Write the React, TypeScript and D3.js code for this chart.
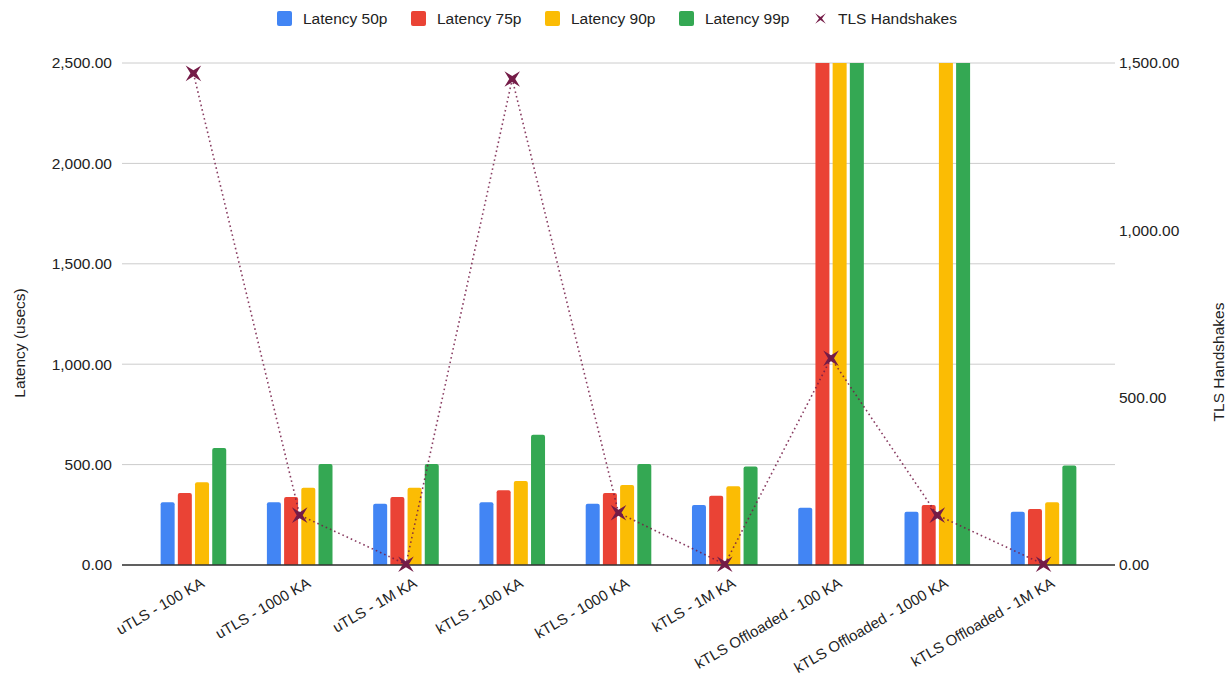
import React from "react";
import * as d3 from "d3";

// Test configurations (x categories)
const categories = [
  "uTLS - 100 KA",
  "uTLS - 1000 KA",
  "uTLS - 1M KA",
  "kTLS - 100 KA",
  "kTLS - 1000 KA",
  "kTLS - 1M KA",
  "kTLS Offloaded - 100 KA",
  "kTLS Offloaded - 1000 KA",
  "kTLS Offloaded - 1M KA",
];

// Latency percentiles in microseconds (values above 2,500 run off the axis)
const latency50p = [312, 312, 305, 312, 305, 299, 285, 265, 265];
const latency75p = [358, 339, 339, 372, 358, 345, 3400, 299, 279];
const latency90p = [412, 385, 385, 418, 398, 392, 5200, 4300, 312];
const latency99p = [583, 503, 503, 649, 503, 490, 9600, 8800, 496];

// TLS handshakes per configuration (right axis)
const tlsHandshakes = [1469, 149, 2, 1452, 156, 2, 618, 149, 2];

const seriesNames = ["Latency 50p", "Latency 75p", "Latency 90p", "Latency 99p"];
const seriesValues = [latency50p, latency75p, latency90p, latency99p];
const seriesColors = ["#4285F4", "#EA4335", "#FBBC04", "#34A853"];
const lineName = "TLS Handshakes";
const lineColor = "#741b47";

const leftTicks = [0, 500, 1000, 1500, 2000, 2500];
const rightTicks = [0, 500, 1000, 1500];

const W = 1226;
const H = 678;
const FONT = "'Liberation Sans', Arial, sans-serif";
const TEXT = "#222";

const plotLeft = 122;
const plotRight = 1115;
const plotTop = 63;
const plotBottom = 565;

// Four-pointed star turned 45 degrees, used as the handshake marker
function starPath(R: number, r: number): string {
  const p = d3.path();
  for (let i = 0; i < 8; i++) {
    const a = Math.PI / 4 + (i * Math.PI) / 4;
    const rad = i % 2 === 0 ? R : r;
    const px = rad * Math.cos(a);
    const py = rad * Math.sin(a);
    if (i === 0) p.moveTo(px, py);
    else p.lineTo(px, py);
  }
  p.closePath();
  return p.toString();
}

// Bar with rounded top corners
function barPath(x: number, y: number, w: number, h: number, rr: number): string {
  const r = Math.min(rr, h, w / 2);
  const p = d3.path();
  p.moveTo(x, y + h);
  p.lineTo(x, y + r);
  p.quadraticCurveTo(x, y, x + r, y);
  p.lineTo(x + w - r, y);
  p.quadraticCurveTo(x + w, y, x + w, y + r);
  p.lineTo(x + w, y + h);
  p.closePath();
  return p.toString();
}

export default function App() {
  const x0 = d3.scaleBand<string>().domain(categories).range([140.3, 1096.7]).padding(0);
  const x1 = d3
    .scaleBand<string>()
    .domain(seriesNames)
    .range([-32.8, 32.8])
    .paddingInner(0.186)
    .paddingOuter(0);
  const yL = d3.scaleLinear().domain([0, 2500]).range([plotBottom, plotTop]);
  const yR = d3.scaleLinear().domain([0, 1500]).range([plotBottom, plotTop]);
  const fmt = d3.format(",.2f");
  const cx = (c: string) => (x0(c) as number) + x0.bandwidth() / 2;

  const line = d3
    .line<number>()
    .x((_, i) => cx(categories[i]))
    .y((d) => yR(d));

  const marker = starPath(11, 3);
  const legendMarker = starPath(7.5, 1.5);

  // Legend layout
  const legendItems = [
    { name: seriesNames[0], color: seriesColors[0], x: 277 },
    { name: seriesNames[1], color: seriesColors[1], x: 411 },
    { name: seriesNames[2], color: seriesColors[2], x: 545 },
    { name: seriesNames[3], color: seriesColors[3], x: 679 },
  ];

  return (
    <div style={{ position: "absolute", left: 0, top: 0 }}>
      <svg width={W} height={H} style={{ display: "block", background: "#fff" }} fontFamily={FONT}>
        <defs>
          <clipPath id="plotClip">
            <rect x={0} y={plotTop} width={W} height={plotBottom - plotTop + 1} />
          </clipPath>
        </defs>

        {/* Legend */}
        <g>
          {legendItems.map((it) => (
            <g key={it.name}>
              <rect x={it.x} y={11} width={15} height={15} rx={2} fill={it.color} />
              <text x={it.x + 26} y={24} fontSize={15.5} fill={TEXT}>
                {it.name}
              </text>
            </g>
          ))}
          <path d={legendMarker} transform="translate(820.5,18.5)" fill={lineColor} />
          <text x={838} y={24} fontSize={15.5} fill={TEXT}>
            {lineName}
          </text>
        </g>

        {/* Gridlines */}
        {leftTicks.map((t) => (
          <line
            key={t}
            x1={plotLeft}
            x2={plotRight}
            y1={yL(t)}
            y2={yL(t)}
            stroke="#cccccc"
            strokeWidth={1}
          />
        ))}

        {/* Left axis labels */}
        {leftTicks.map((t) => (
          <text
            key={t}
            x={112}
            y={yL(t)}
            dy="0.35em"
            textAnchor="end"
            fontSize={15.5}
            fill={TEXT}
          >
            {fmt(t)}
          </text>
        ))}

        {/* Right axis labels */}
        {rightTicks.map((t) => (
          <text key={t} x={1119} y={yR(t)} dy="0.35em" textAnchor="start" fontSize={15.5} fill={TEXT}>
            {fmt(t)}
          </text>
        ))}

        {/* Axis titles */}
        <text
          transform="translate(25,343) rotate(-90)"
          textAnchor="middle"
          fontSize={15.5}
          fill={TEXT}
        >
          Latency (usecs)
        </text>
        <text
          transform="translate(1224,362) rotate(-90)"
          textAnchor="middle"
          fontSize={15.5}
          fill={TEXT}
        >
          {lineName}
        </text>

        {/* Bars */}
        <g clipPath="url(#plotClip)">
          {categories.map((c, ci) => (
            <g key={c}>
              {seriesNames.map((s, si) => {
                const v = seriesValues[si][ci];
                const bx = cx(c) + (x1(s) as number);
                const by = yL(v);
                return (
                  <path
                    key={s}
                    d={barPath(bx, by, x1.bandwidth(), plotBottom - by, 2)}
                    fill={seriesColors[si]}
                  />
                );
              })}
            </g>
          ))}
        </g>

        {/* Baseline */}
        <line x1={plotLeft} x2={plotRight} y1={plotBottom} y2={plotBottom} stroke="#333" strokeWidth={1.5} />

        {/* Category labels */}
        {categories.map((c) => (
          <text
            key={c}
            transform={`translate(${cx(c) + 12},586) rotate(-30)`}
            textAnchor="end"
            fontSize={15}
            fill={TEXT}
          >
            {c}
          </text>
        ))}

        {/* TLS handshakes dotted line */}
        <path
          d={line(tlsHandshakes) || ""}
          fill="none"
          stroke={lineColor}
          strokeWidth={1.6}
          strokeDasharray="1.6 3"
          opacity={0.85}
        />
        {tlsHandshakes.map((v, i) => (
          <path
            key={i}
            d={marker}
            transform={`translate(${cx(categories[i])},${yR(v)})`}
            fill={lineColor}
          />
        ))}
      </svg>
    </div>
  );
}
